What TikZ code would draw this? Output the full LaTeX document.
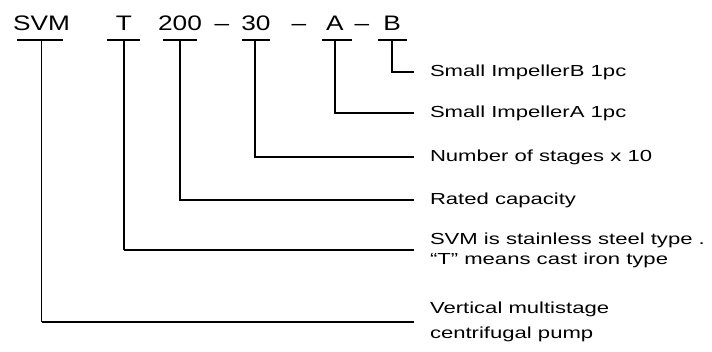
\documentclass[tikz,border=0pt]{standalone}
\usepackage{fontspec}
\setmainfont{Liberation Sans}
\newfontfamily\codefont[FakeStretch=1.25]{Liberation Sans}
\newfontfamily\descfont[FakeStretch=1.38]{Liberation Sans}
\usepackage{tikz}
\usetikzlibrary{positioning}

\begin{document}
\begin{tikzpicture}[x=1pt, y=-1pt,
  code/.style={anchor=base, inner sep=0pt, font=\codefont\fontsize{21}{25}\selectfont},
  desc/.style={anchor=west, inner sep=0pt, outer xsep=16pt, align=left, font=\descfont\fontsize{16}{20}\selectfont},
  bar/.style={line width=1.5pt},
  lead/.style={line width=1.2pt},
  leadthick/.style={line width=2.4pt}]
\useasboundingbox (0,0) rectangle (712,351);
\node[code] (svm) at (41.5,30) {SVM};
\node[code] (type) at (124,30) {T};
\node[code] (cap) at (180,30) {200};
\node[code] (dash1) at (222,30) {–};
\node[code] (stage) at (256,30) {30};
\node[code] (dash2) at (299,30) {–};
\node[code] (impa) at (335,30) {A};
\node[code] (dash3) at (362,30) {–};
\node[code] (impb) at (392,30) {B};
\coordinate (svmbar) at (41.5,40);
\coordinate (typebar) at (124,40);
\coordinate (capbar) at (180,40);
\coordinate (stagebar) at (255,40);
\coordinate (impabar) at (335,40);
\coordinate (impbbar) at (392,40);
\draw[bar] (svmbar) +(-24.5,0) -- +(21.5,0);
\draw[bar] (typebar) +(-17,0) -- +(16,0);
\draw[bar] (capbar) +(-17,0) -- +(17,0);
\draw[bar] (stagebar) +(-13,0) -- +(15,0);
\draw[bar] (impabar) +(-13,0) -- +(17,0);
\draw[bar] (impbbar) +(-14,0) -- +(15,0);
\node[desc] (dimpb) at (414,72) {Small ImpellerB 1pc};
\node[desc] (dimpa) at (414,113) {Small ImpellerA 1pc};
\node[desc] (dstage) at (414,157) {Number of stages x 10};
\node[desc] (dcap) at (414,200) {Rated capacity};
\node[desc] (dtype) at (414,250) {SVM is stainless steel type .\\“T” means cast iron type};
\node[desc] (dpump) at (414,322) {Vertical multistage\\[5pt]centrifugal pump};
\draw[lead] (impbbar) |- (dimpb.west);
\draw[lead] (impabar) |- (dimpa.west);
\draw[lead] (stagebar) |- (dstage.west);
\draw[lead] (capbar) |- (dcap.west);
\draw[lead] (typebar) -- (typebar |- dtype.west);
\draw[leadthick] (typebar |- dtype.west) -- (dtype.west);
\draw[lead] (svmbar) -- (svmbar |- dpump.west);
\draw[leadthick] (svmbar |- dpump.west) -- (dpump.west);
\end{tikzpicture}
\end{document}
